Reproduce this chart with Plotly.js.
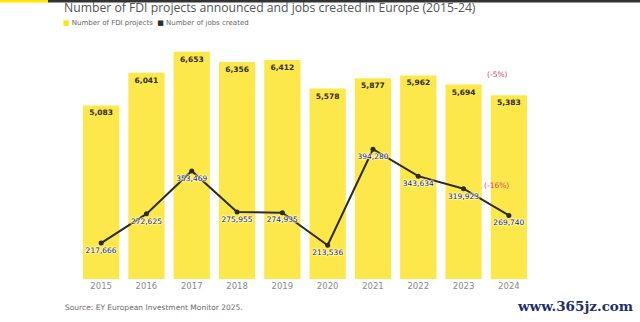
<!DOCTYPE html>
<html>
<head>
<meta charset="utf-8">
<script src="https://cdn.plot.ly/plotly-3.0.1.min.js"></script>
<style>html,body{margin:0;padding:0;background:#fff;}#chart{width:640px;height:322px;}</style>
</head>
<body>
<div id="chart"></div>
<script>
const years = ['2015','2016','2017','2018','2019','2020','2021','2022','2023','2024'];
const fdiProjects = [5083, 6041, 6653, 6356, 6412, 5578, 5877, 5962, 5694, 5383];
const jobsCreated = [217666, 272625, 353469, 275955, 274935, 213536, 394280, 343634, 319923, 269740];
const changeLabels = ['(-5%)', '(-16%)'];

const fmt = v => v.toLocaleString('en-US');
const halo = '1px 0 1px #fff, -1px 0 1px #fff, 0 1px 1px #fff, 0 -1px 1px #fff';

const bars = {
  type: 'bar', x: years, y: fdiProjects,
  marker: {color: '#fde84c', line: {width: 0}},
  text: fdiProjects.map(fmt), textposition: 'inside', insidetextanchor: 'end',
  constraintext: 'none', cliponaxis: false,
  textfont: {family: 'DejaVu Sans', size: 7.5, color: '#2b2b2b', weight: 'bold'},
  hoverinfo: 'skip', showlegend: false
};
const line = {
  type: 'scatter', mode: 'lines+markers+text', x: years, y: jobsCreated, yaxis: 'y2',
  line: {color: '#2f2a22', width: 2},
  marker: {color: '#2f2a22', size: 5},
  text: jobsCreated.map(fmt), textposition: 'bottom center', cliponaxis: false,
  textfont: {family: 'DejaVu Sans', size: 7.5, color: '#2b2b3a', shadow: halo},
  hoverinfo: 'skip', showlegend: false
};

const layout = {
  width: 640, height: 322,
  margin: {l: 75, r: 105, t: 40, b: 43},
  paper_bgcolor: '#fff', plot_bgcolor: '#fff',
  bargap: 0.2,
  title: {text: 'Number of FDI projects announced and jobs created in Europe (2015-24)',
          x: 64/640, xanchor: 'left', xref: 'container', y: 1 - 8/322, yanchor: 'middle', yref: 'container',
          font: {family: 'Open Sans', size: 12.2, color: '#555555'}},
  xaxis: {type: 'category', showgrid: false, zeroline: false, showline: false, ticks: '',
          tickfont: {family: 'DejaVu Sans', size: 8.5, color: '#8a8a8a'}},
  yaxis: {range: [0, 7000], visible: false, showgrid: false, zeroline: false},
  yaxis2: {range: [150000, 600000], overlaying: 'y', side: 'right', visible: false, showgrid: false, zeroline: false},
  shapes: [
    {type: 'rect', xref: 'paper', yref: 'paper', x0: -75/460, x1: -27/460, y0: 1 + 37.5/239, y1: 1 + 40/239,
     fillcolor: '#ffe600', line: {width: 0}},
    {type: 'rect', xref: 'paper', yref: 'paper', x0: -27/460, x1: 565/460, y0: 1 + 37.5/239, y1: 1 + 40/239,
     fillcolor: '#333333', line: {width: 0}}
  ],
  annotations: [
    {xref: 'paper', yref: 'paper', x: -14/460, y: 1 + 17/239, xanchor: 'left', yanchor: 'middle', showarrow: false,
     text: '<span style="color:#ffe600">■</span> Number of FDI projects  <span style="color:#2e2e2e">■</span> Number of jobs created',
     font: {family: 'DejaVu Sans', size: 7, color: '#666'}},
    {xref: 'paper', yref: 'paper', x: -12/460, y: -28/239, xanchor: 'left', yanchor: 'middle', showarrow: false,
     text: 'Source: EY European Investment Monitor 2025.',
     font: {family: 'DejaVu Sans', size: 7.5, color: '#6a6a6a'}},
    {xref: 'paper', yref: 'paper', x: (575 - 75)/460, y: -27/239, xanchor: 'center', yanchor: 'middle', showarrow: false,
     text: 'www.365jz.com',
     font: {family: 'DejaVu Serif', size: 13.5, color: '#1d2f6b', weight: 'bold'}},
    {x: 8.75, y: 6004, xref: 'x', yref: 'y', showarrow: false, text: changeLabels[0],
     font: {family: 'DejaVu Sans', size: 7.5, color: '#d6405f'}},
    {x: 8.72, y: 2753, xref: 'x', yref: 'y', showarrow: false, text: changeLabels[1],
     font: {family: 'DejaVu Sans', size: 7.5, color: '#d6405f'}}
  ]
};

Plotly.newPlot('chart', [bars, line], layout, {displayModeBar: false, staticPlot: true});
</script>
</body>
</html>
